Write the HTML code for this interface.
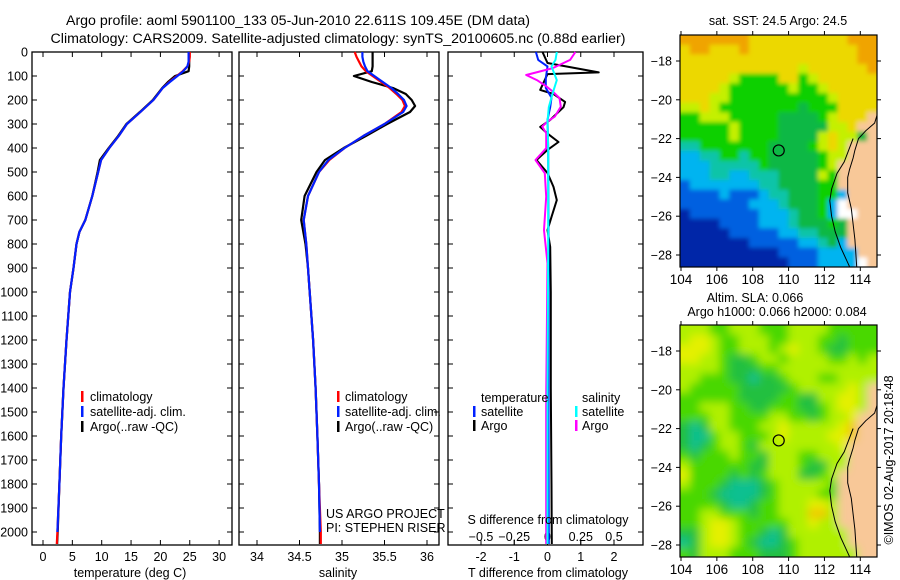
<!DOCTYPE html>
<html><head><meta charset="utf-8">
<style>
html,body{margin:0;padding:0;background:#fff;}
svg{display:block;font-family:"Liberation Sans",sans-serif;}
text{font-size:12.5px;fill:#000;}
</style></head>
<body>
<svg id="chart" width="900" height="580" viewBox="0 0 900 580" xmlns="http://www.w3.org/2000/svg">
<defs>
<filter id="blurA" x="-10%" y="-10%" width="120%" height="120%"><feGaussianBlur stdDeviation="2.2"/></filter>
<filter id="blurB" x="-10%" y="-10%" width="120%" height="120%"><feGaussianBlur stdDeviation="4.5"/></filter>
<clipPath id="clipA"><rect x="680" y="35" width="197" height="232"/></clipPath>
<clipPath id="clipB"><rect x="680" y="325" width="197" height="232"/></clipPath>
</defs>
<text x="298" y="25" text-anchor="middle" style="font-size:14.2px">Argo profile: aoml 5901100_133 05-Jun-2010 22.611S 109.45E (DM data)</text>
<text x="338" y="43" text-anchor="middle" style="font-size:14.2px">Climatology: CARS2009. Satellite-adjusted climatology: synTS_20100605.nc (0.88d earlier)</text>
<g id="g"></g>
</svg>
<script>
// ---------- data ----------
const depths = [0,20,40,60,80,100,125,150,175,200,250,300,350,400,450,500,600,700,750,800,900,1000,1200,1400,1600,1800,2000,2050];
const tempArgo = [24.9,24.9,24.9,24.9,24.8,22.5,21.3,20.3,19.5,18.7,16.5,14.2,12.8,11.2,9.7,9.3,8.4,7.2,6.2,5.7,5.2,4.6,4.0,3.5,3.1,2.8,2.5,2.4];
const tempClim = [25.0,25.0,24.9,24.6,23.8,22.8,21.5,20.4,19.6,18.8,16.6,14.3,12.9,11.3,9.9,9.4,8.4,7.2,6.2,5.7,5.2,4.6,4.0,3.5,3.1,2.8,2.45,2.35];
const tempSat  = [24.8,24.8,24.8,24.6,23.9,22.9,21.6,20.4,19.6,18.8,16.6,14.3,12.9,11.3,9.9,9.4,8.4,7.2,6.2,5.7,5.2,4.6,4.0,3.5,3.1,2.8,2.45,2.35];
const salDepths = [0,20,40,60,80,100,125,150,175,200,225,250,300,350,400,450,500,600,700,800,900,1000,1200,1400,1600,1800,2000,2050];
const salArgo = [35.36,35.36,35.36,35.36,35.35,35.14,35.35,35.6,35.75,35.82,35.86,35.8,35.53,35.28,35.02,34.8,34.7,34.56,34.52,34.57,34.6,34.62,34.66,34.69,34.71,34.73,34.74,34.74];
const salClim = [35.15,35.17,35.2,35.23,35.28,35.36,35.46,35.56,35.64,35.71,35.74,35.7,35.5,35.25,35.03,34.85,34.73,34.6,34.55,34.58,34.6,34.62,34.66,34.69,34.71,34.73,34.75,34.75];
const salSat  = [35.24,35.24,35.25,35.27,35.3,35.38,35.48,35.58,35.66,35.73,35.76,35.72,35.5,35.25,35.03,34.84,34.73,34.6,34.55,34.58,34.6,34.62,34.66,34.69,34.71,34.73,34.74,34.74];
// difference panel
const dTArgoDepth = [0,46,85,92,158,175,208,230,283,312,340,375,408,450,504,562,617,687,742,812,1000,1400,1800,2050];
const dTArgo = [-0.15,0,1.54,0,-0.22,0.18,0.53,0.48,0.08,-0.22,0,0.33,0,-0.33,0,0.18,0.28,0.12,0,0.08,0.1,0.1,0.12,0.13];
const dTSatDepth = [0,33,60,110,150,190,230,283,400,800,1400,2050];
const dTSat = [-0.35,-0.28,0,-0.05,-0.05,0.12,0.08,0.0,0.02,0.03,0.03,0.04];
const dSArgoDepth = [0,33,67,96,117,144,165,192,228,269,290,311,338,401,450,505,603,742,880,1437,2050];
const dSArgo = [0.21,0.17,0.04,-0.16,-0.08,-0.006,0.04,0.09,0.1,0.055,0,-0.04,-0.01,-0.01,-0.09,-0.02,-0.01,-0.026,0,-0.01,-0.01];
const dSSatDepth = [0,33,60,117,170,230,290,400,800,1400,2050];
const dSSat = [0.07,0.06,0.03,0.07,0.04,0.01,0.0,0.005,0.005,0.0,0.0];
const depthTicks = [0,100,200,300,400,500,600,700,800,900,1000,1100,1200,1300,1400,1500,1600,1700,1800,1900,2000];
const tempTicks = [0,5,10,15,20,25,30];
const salTicks = [34,34.5,35,35.5,36];
const tDiffTicks = [-2,-1,0,1,2];
const sDiffTicks = [-0.5,-0.25,0,0.25,0.5];
const lonTicks = [104,106,108,110,112,114];
const latTicks = [-18,-20,-22,-24,-26,-28];
const sstGrid = [
"OOOOOOOYYYYYYYYYYOOO","YOOYYYOYYYYYYYYYYYOO","YYYYYYYYYYYYYYYYYYOO","YYYYYYYYYYYYLYYYYYYO",
"YYYYYLGGGGYYGLYYYYYY","YYYYLGGGGGGLGGLYYYYY","YYYLLGGGGGGGGGGLYYYY","LLYLGGGGGGGGDGGGYYYY",
"GGLLLGGGGGDDDDGLYYYS","GGGGGLGGGGDDDDDLLYSS","GGGGGLGGGGDDDDLYLLDS","TTGGGGGGGDDDDGLYLSSS",
"CCTTGGTGGDDDDDGLLSSS","CCCTTTTTGDDDDDGLSSSS","CCCTTCCTTTDDDDLGSSSS","BCCCCCCCTTDDDDGGSSSS",
"BBBBCBBBCTTDDDGGCSSS","BBBBBBBCCCTDDDGCWSSS","NBBBBBBBCCCTDDGCWWSS","NNNNBBBBCCCTDDDGDSSS",
"NNNNNBBBBBCCTTDDDSSS","NNNNNNNBBBBBCCTDCSSS","NNNNNNNNNNBBBBCCCCSS","NNNNNNNNNNNBBBCCCCWS"];
const slaGrid = [
"LLLGGLLLGGGLLLLGGGGG","LYYLGGLLLGGLLLGGDGGG","YYYLGGLLLGLYLLGDDGGG","YYLLGDDGLLGLLLLGGLGL",
"LLLLGDDDGGLLLLLLLLLL","LLGGGDDTDDGLLLGGLLLL","LGGGGGDDDDDGLLLLLYLS","GGGGGGDDDDGGDDLLYYLS",
"GGLLLGGDDGGGDDGLYYLS","GGGLLGGGGLLGGDGLLYSS","DTDLLGGGLLYLLLLLYOSS","DTTGLLGGGLYLLLLYYOSS",
"DTDGLLGDLLLLLLLLYSSS","GDGGGLGGDLLLGGLLLSSS","LGGGGGGDDLLLGDDLLSSS","YGGGGDGDGLLLDDGLSSSS",
"LGGGDTTTDGLLLLLGSSSS","GGGDTTTTDGLLLLGGSSSS","GGGGDTTDGGLLLYYLSSSS","GGLLGGGDGGLLLOOLSSSS",
"GGLYYLGGGGGLLYLLSSSS","DDLYYLGGDTDLLLLLLSSS","TDLYYLGDTTDGLLLLLSSS","GDLLLGGGDDDGLLLLLLSS"];
const sstColors = {O:"#f0a400",Y:"#ecd800",L:"#c4f000",G:"#10d000",D:"#08b844",T:"#10c4a8",C:"#00b4f0",B:"#0060e0",N:"#0428a8",S:"#f8c898",W:"#ffffff"};
const slaColors = {O:"#f0c800",Y:"#e4f000",L:"#b0f000",G:"#48d800",D:"#20c040",T:"#10c090",S:"#f8c898"};
const coastLon = [115,114.8,114.3,113.9,113.7,113.6,113.4,113.3,113.3,113.5,113.6,113.7,113.8];
const coastLat = [-20.6,-21.2,-21.6,-22.0,-22.6,-23.0,-23.6,-24.0,-24.8,-25.6,-26.4,-27.2,-28.6];
const shelfLon = [113.6,113.1,112.7,112.4,112.3,112.4,112.6,112.9,113.2,113.4];
const shelfLat = [-22.0,-23.2,-23.8,-24.6,-25.2,-26.0,-26.8,-27.6,-28.2,-28.6];

// ---------- helpers ----------
const NS="http://www.w3.org/2000/svg";
const G=document.getElementById('g');
function mk(tag,attrs,parent){const e=document.createElementNS(NS,tag);for(const k in attrs)e.setAttribute(k,attrs[k]);(parent||G).appendChild(e);return e;}
function txt(x,y,s,anchor,parent,extra){const t=mk('text',Object.assign({x:x,y:y,'text-anchor':anchor||'start'},extra||{}),parent);t.textContent=s;return t;}
const Y0=52, YS=0.24;
function yD(d){return Y0+d*YS;}
const BOT=545;
function panel(x0,x1,name){
  const r=mk('rect',{x:x0,y:Y0,width:x1-x0,height:BOT-Y0,fill:'none',stroke:'#000','stroke-width':1.3});
  
  
  depthTicks.forEach(d=>{mk('line',{x1:x0,x2:x0+5,y1:yD(d),y2:yD(d),stroke:'#000'});mk('line',{x1:x1,x2:x1-5,y1:yD(d),y2:yD(d),stroke:'#000'});});
}
function line(xs,ds,fx,color,w,name){
  let p='';for(let i=0;i<xs.length;i++){p+=(i?'L':'M')+fx(xs[i]).toFixed(1)+','+yD(ds[i]).toFixed(1);}
  const e=mk('path',{d:p,fill:'none',stroke:color,'stroke-width':w,'stroke-linejoin':'round'});
  
  
}
function legendBar(x,y,color){mk('rect',{x:x,y:y-10,width:2.5,height:11,fill:color});}

// ---------- panel 1: temperature ----------
const xT=t=>43+t*5.87;
panel(32,232,'temperature-panel');
depthTicks.forEach(d=>{const t=txt(28,yD(d)+4.5,String(d),'end');});
tempTicks.forEach(v=>{mk('line',{x1:xT(v),x2:xT(v),y1:BOT,y2:BOT-5,stroke:'#000'});mk('line',{x1:xT(v),x2:xT(v),y1:Y0,y2:Y0+5,stroke:'#000'});txt(xT(v),561,String(v),'middle');});
line(tempArgo,depths,xT,'#000',2.2,'temp-argo-line');
line(tempClim,depths,xT,'#f00',2.2,'temp-climatology-line');
line(tempSat.slice(0,27),depths.slice(0,27),xT,'#0020ff',2.2,'temp-satellite-line');
txt(130,577,'temperature (deg C)','middle');
[['climatology','#f00'],['satellite-adj. clim.','#0020ff'],['Argo(..raw -QC)','#000']].forEach((e,i)=>{legendBar(81,401+i*15,e[1]);const t=txt(90,401+i*15,e[0]);});

// ---------- panel 2: salinity ----------
const xS=s=>257+(s-34)*85;
panel(239,439,'salinity-panel');
salTicks.forEach(v=>{mk('line',{x1:xS(v),x2:xS(v),y1:BOT,y2:BOT-5,stroke:'#000'});mk('line',{x1:xS(v),x2:xS(v),y1:Y0,y2:Y0+5,stroke:'#000'});txt(xS(v),561,String(v),'middle');});
line(salArgo,salDepths,xS,'#000',2.2,'sal-argo-line');
line(salClim,salDepths,xS,'#f00',2.2,'sal-climatology-line');
line(salSat.slice(0,27),salDepths.slice(0,27),xS,'#0020ff',2.2,'sal-satellite-line');
txt(338,577,'salinity','middle');
[['climatology','#f00'],['satellite-adj. clim.','#0020ff'],['Argo(..raw -QC)','#000']].forEach((e,i)=>{legendBar(337,401+i*15,e[1]);const t=txt(345,401+i*15,e[0]);});
txt(326,518,'US ARGO PROJECT');
txt(326,532,'PI: STEPHEN RISER');

// ---------- panel 3: differences ----------
const xDT=t=>547.5+t*33.25;
const xDS=s=>547.5+s*133;
panel(448,643,'difference-panel');
tDiffTicks.forEach(v=>{mk('line',{x1:xDT(v),x2:xDT(v),y1:BOT,y2:BOT-5,stroke:'#000'});mk('line',{x1:xDT(v),x2:xDT(v),y1:Y0,y2:Y0+5,stroke:'#000'});txt(xDT(v),561,String(v),'middle');});
sDiffTicks.forEach(v=>{mk('line',{x1:xDS(v),x2:xDS(v),y1:BOT-5,y2:BOT,stroke:'#000'});txt(xDS(v),541,String(v).replace('-','\u2212'),'middle');});
line(dTArgo,dTArgoDepth,xDT,'#000',2,'tdiff-argo-line');
line(dTSat,dTSatDepth,xDT,'#0020ff',2,'tdiff-satellite-line');
line(dSArgo,dSArgoDepth,xDS,'#ff00ff',2,'sdiff-argo-line');
line(dSSat,dSSatDepth,xDS,'#00ffff',2,'sdiff-satellite-line');
txt(548,524,'S difference from climatology','middle');
txt(548,577,'T difference from climatology','middle');
txt(481,402,'temperature');txt(582,402,'salinity');
legendBar(473,416,'#0020ff');txt(481,416,'satellite');
legendBar(473,430,'#000');txt(481,430,'Argo');
legendBar(575,416,'#00ffff');txt(582,416,'satellite');
legendBar(575,430,'#ff00ff');txt(582,430,'Argo');

// ---------- maps ----------
function map(top,bottom,grid,colors,name,lonLabY,blurId,clipId){
  const x0=680,x1=877;
  const lonX=l=>681+(l-104)*17.93;
  const latY=l=>(top+26)+(-18-l)*19.4;
  const g=mk('g',{});
  
  
  const clipG=mk('g',{'clip-path':'url(#'+clipId+')'},g);
  const field=mk('g',{filter:'url(#'+blurId+')'},clipG);
  const rows=grid.length, cols=grid[0].length;
  const cw=(x1-x0)/cols, ch=(bottom-top)/rows;
  for(let r=0;r<rows;r++)for(let c=0;c<cols;c++){
    let x=x0+c*cw, y=top+r*ch, w=cw+0.6, h=ch+0.6;
    if(c===0){x-=12;w+=12;} if(c===cols-1){w+=12;}
    if(r===0){y-=12;h+=12;} if(r===rows-1){h+=12;}
    mk('rect',{x:x.toFixed(2),y:y.toFixed(2),width:w.toFixed(2),height:h.toFixed(2),fill:colors[grid[r][c]]},field);
  }
  let p='';coastLon.forEach((l,i)=>{p+=(i?'L':'M')+lonX(l).toFixed(1)+','+latY(coastLat[i]).toFixed(1);});
  mk('path',{d:p,fill:'none',stroke:'#000','stroke-width':1},clipG);
  p='';shelfLon.forEach((l,i)=>{p+=(i?'L':'M')+lonX(l).toFixed(1)+','+latY(shelfLat[i]).toFixed(1);});
  mk('path',{d:p,fill:'none',stroke:'#000','stroke-width':1},clipG);
  const c=mk('circle',{cx:lonX(109.45),cy:latY(-22.611),r:5.5,fill:'none',stroke:'#000','stroke-width':1.2},g);
  
  
  mk('rect',{x:x0,y:top,width:x1-x0,height:bottom-top,fill:'none',stroke:'#000','stroke-width':1.2},g);
  lonTicks.forEach(l=>{mk('line',{x1:lonX(l),x2:lonX(l),y1:top,y2:top-4,stroke:'#000'},g);mk('line',{x1:lonX(l),x2:lonX(l),y1:bottom,y2:bottom+4,stroke:'#000'},g);txt(lonX(l),lonLabY,String(l),'middle',g,{style:'font-size:13.5px'});});
  latTicks.forEach(l=>{mk('line',{x1:x0,x2:x0-4,y1:latY(l),y2:latY(l),stroke:'#000'},g);mk('line',{x1:x1,x2:x1+4,y1:latY(l),y2:latY(l),stroke:'#000'},g);txt(672,latY(l)+4.5,String(l).replace('-','\u2212'),'end',g);});
}
map(35,267,sstGrid,sstColors,'sst-map',284,'blurA','clipA');
map(325,557,slaGrid,slaColors,'sla-map',574,'blurB','clipB');
txt(778,25,'sat. SST: 24.5 Argo: 24.5','middle');
txt(755,302,'Altim. SLA: 0.066','middle');
txt(777,316,'Argo h1000: 0.066 h2000: 0.084','middle');
const cr=txt(0,0,'\u00a9IMOS 02-Aug-2017 20:18:48','middle',null,{transform:'translate(893,460) rotate(-90)'});


</script>
</body></html>
